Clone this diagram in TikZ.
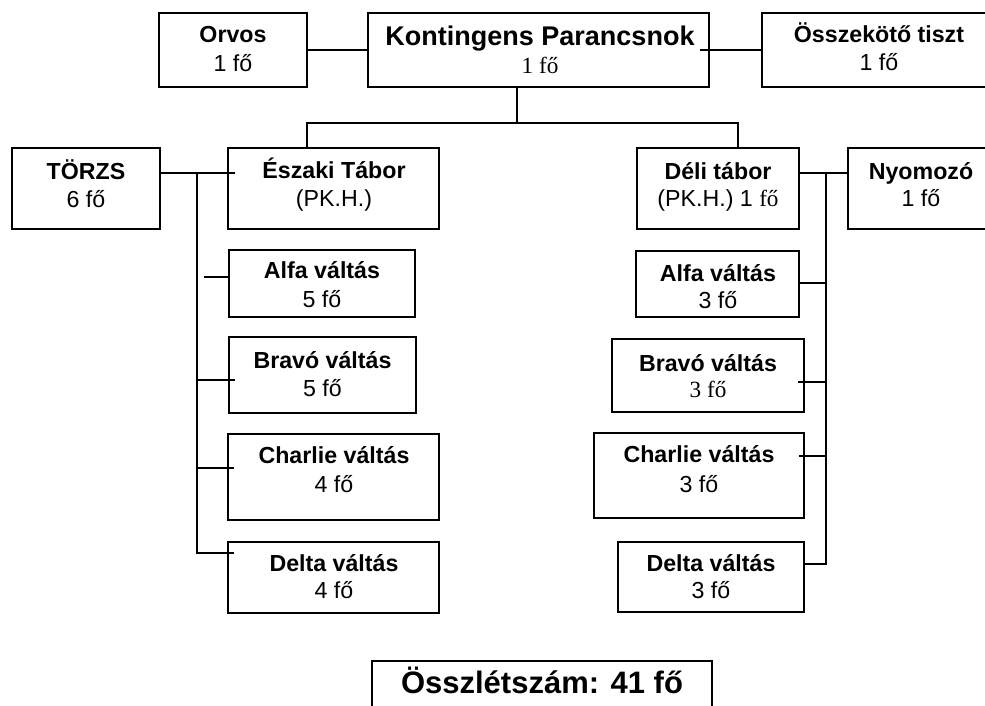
\documentclass[tikz,border=0pt]{standalone}
\usepackage{fontspec}
\setmainfont{Liberation Sans}
\newfontfamily\serifrm{Liberation Serif}
\usetikzlibrary{calc}
\tikzset{
  bx/.style={draw=black, line width=1.8pt, inner sep=0pt, outer sep=0pt},
  conn/.style={draw=black, line width=1.8pt},
  tb/.style={font=\fontsize{23.2}{28}\selectfont\bfseries, anchor=base, inner sep=0pt},
  tr/.style={font=\fontsize{23.2}{28}\selectfont, anchor=base, inner sep=0pt},
  ts/.style={font=\fontsize{23.2}{28}\selectfont\serifrm, anchor=base, inner sep=0pt},
  tk/.style={font=\fontsize{27}{32}\selectfont\bfseries, anchor=base, inner sep=0pt},
  tt/.style={font=\fontsize{31}{36}\selectfont\bfseries, anchor=base, inner sep=0pt}
}
\newcommand\orgbox[5]{\node[bx, minimum width={#4-#2}, minimum height={#5-#3}] (#1) at ({(#2+#4)/2},{(#3+#5)/2}) {};}
\begin{document}
\begin{tikzpicture}[x=1pt,y=-1pt]
\useasboundingbox (0,0) rectangle (985,706);
\clip (0,0) rectangle (985,706);
\fill[white] (0,0) rectangle (985,706);
% boxes
\orgbox{orvos}{159}{13}{307}{87}
\orgbox{kont}{368}{13}{709}{87}
\orgbox{ossz}{762}{13}{996}{87}
\orgbox{torzs}{12}{148}{160}{229}
\orgbox{eszak}{228}{148}{439}{229}
\orgbox{deli}{637}{148}{799}{229}
\orgbox{nyom}{848}{148}{994}{229}
\orgbox{alfaL}{229}{250}{415}{317}
\orgbox{bravoL}{229}{337}{416}{413}
\orgbox{charlieL}{228}{434}{439}{520}
\orgbox{deltaL}{228}{542}{439}{613}
\orgbox{alfaR}{636}{251}{799}{317}
\orgbox{bravoR}{612}{339}{804}{412}
\orgbox{charlieR}{594}{433}{804}{518}
\orgbox{deltaR}{618}{542}{804}{612}
\orgbox{total}{372}{661}{712}{722}
% texts
\node[tb] (orvos1) at (233,43) {Orvos};
\node[tr] (orvos2) at (233,72) {1 fő};
\node[tk] (kont1) at (540,46) {Kontingens Parancsnok};
\node[ts] (kont2) at (540,74) {1 fő};
\node[tb] (ossz1) at (879,43) {Összekötő tiszt};
\node[tr] (ossz2) at (879,71) {1 fő};
\node[tb] (torzs1) at (86,179) {TÖRZS};
\node[tr] (torzs2) at (86,207) {6 fő};
\node[tb] (eszak1) at (334,178) {Északi Tábor};
\node[tr] (eszak2) at (334,206) {(PK.H.)};
\node[tb] (deli1) at (718,179) {Déli tábor};
\node[tr] (deli2) at (718,206) {(PK.H.) 1 {\serifrm fő}};
\node[tb] (nyom1) at (921,179) {Nyomozó};
\node[tr] (nyom2) at (921,206) {1 fő};
\node[tb] (alfaL1) at (322,278) {Alfa váltás};
\node[tr] (alfaL2) at (322,307) {5 fő};
\node[tb] (bravoL1) at (322.5,368) {Bravó váltás};
\node[tr] (bravoL2) at (322.5,396) {5 fő};
\node[tb] (charlieL1) at (334,463) {Charlie váltás};
\node[tr] (charlieL2) at (334,492) {4 fő};
\node[tb] (deltaL1) at (334,571) {Delta váltás};
\node[tr] (deltaL2) at (334,598) {4 fő};
\node[tb] (alfaR1) at (718,281) {Alfa váltás};
\node[tr] (alfaR2) at (718,308) {3 fő};
\node[tb] (bravoR1) at (708,371) {Bravó váltás};
\node[ts] (bravoR2) at (708,397) {3 fő};
\node[tb] (charlieR1) at (699,462) {Charlie váltás};
\node[tr] (charlieR2) at (699,492) {3 fő};
\node[tb] (deltaR1) at (711,571) {Delta váltás};
\node[tr] (deltaR2) at (711,598) {3 fő};
\node[tt] (total1) at (542,693) {Összlétszám: 41 fő};
% connector coordinates
\coordinate (hub) at (517,123);
\coordinate (ln) at (307,123);
\coordinate (rn) at (738,123);
\coordinate (lb) at (197,173);
\coordinate (lbe) at (197,553);
\coordinate (aL) at (204,277);
\coordinate (bL) at (197,380);
\coordinate (cL) at (197,468);
\coordinate (rb) at (826,173);
\coordinate (rbe) at (826,564);
\coordinate (aR) at (826,283);
\coordinate (bR) at (826,382);
\coordinate (cR) at (826,456);
% connectors
\draw[conn] (orvos.east) -- (kont.west);
\draw[conn] ($(kont.east)+(-9,0)$) -- (ossz.west);
\draw[conn] (kont.south -| hub) -- (hub);
\draw[conn] (ln |- eszak.north) -- (ln) -- (rn) -- (rn |- deli.north);
\draw[conn] (torzs.east |- lb) -- ($(eszak.west |- lb)+(7,0)$);
\draw[conn] (lb) -- (lbe) -- ($(deltaL.west |- lbe)+(6,0)$);
\draw[conn] (aL) -- (aL -| alfaL.west);
\draw[conn] (bL) -- ($(bL -| bravoL.west)+(6,0)$);
\draw[conn] (cL) -- ($(cL -| charlieL.west)+(6,0)$);
\draw[conn] (deli.east |- rb) -- (nyom.west |- rb);
\draw[conn] (rb) -- (rbe) -- (rbe -| deltaR.east);
\draw[conn] (alfaR.east |- aR) -- (aR);
\draw[conn] ($(bR -| bravoR.east)+(-6,0)$) -- (bR);
\draw[conn] ($(cR -| charlieR.east)+(-5,0)$) -- (cR);
\end{tikzpicture}
\end{document}
